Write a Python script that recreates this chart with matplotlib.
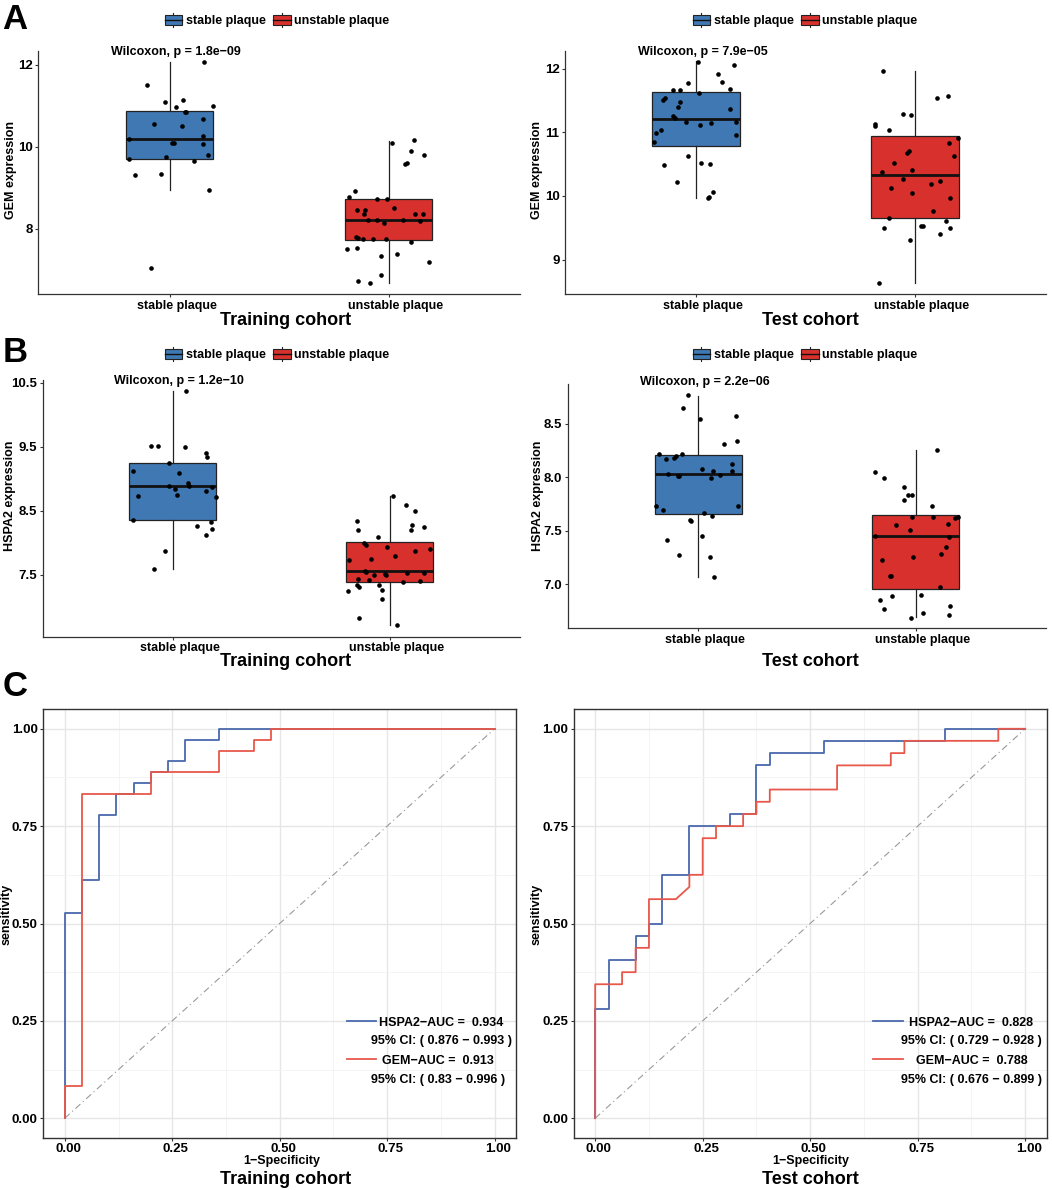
import matplotlib
matplotlib.use('Agg')
import matplotlib.pyplot as plt
import matplotlib.transforms as mtransforms
from matplotlib.patches import Rectangle, Patch
from matplotlib.lines import Line2D
from matplotlib.legend_handler import HandlerBase

plt.rcParams['font.family'] = ['Liberation Sans', 'DejaVu Sans']
plt.rcParams['font.weight'] = 'bold'
plt.rcParams['axes.unicode_minus'] = True

W, H = 1052, 1190

BLUE = '#3F78B3'
RED = '#D8312D'
ROC_BLUE = '#4A68AE'
ROC_RED = '#E8584A'

groups = ['stable plaque', 'unstable plaque']

# ---- GEM, training cohort (y values, jitter offsets)
gem_tr_stable_y = [12.07, 11.50, 11.09, 11.15, 10.97, 10.99, 10.85, 10.84, 10.67, 10.55, 10.50, 10.20,
                   10.27, 10.08, 10.08, 10.07, 9.70, 9.76, 9.80, 9.64, 9.30, 9.34, 8.94, 7.05]
gem_tr_stable_dx = [0.157, -0.104, -0.020, 0.059, 0.029, 0.197, 0.072, 0.076, 0.152, -0.070, 0.055, -0.184,
                    0.154, 0.009, 0.020, 0.151, -0.184, -0.018, 0.175, 0.113, -0.160, -0.038, 0.180, -0.087]
gem_tr_unstable_y = [10.17, 10.09, 9.89, 9.81, 9.59, 9.60, 8.92, 8.78, 8.72, 8.72, 8.50, 8.46, 8.45, 8.37,
                     8.36, 8.36, 8.21, 8.21, 8.15, 8.21, 8.19, 7.80, 7.77, 7.74, 7.76, 7.76, 7.67, 7.50,
                     7.53, 7.38, 7.33, 7.19, 6.87, 6.73, 6.67]
gem_tr_unstable_dx = [0.116, 0.017, 0.101, 0.160, 0.076, 0.082, -0.152, -0.183, -0.053, -0.009, 0.023, -0.146,
                      -0.108, -0.111, 0.120, 0.157, -0.095, -0.052, -0.023, 0.064, 0.142, -0.149, -0.140,
                      -0.119, -0.073, -0.014, 0.102, -0.192, -0.145, 0.037, -0.035, 0.184, -0.035, -0.140, -0.085]
# box stats: (q1, median, q3, whisker low, whisker high)
gem_tr_box = [(9.69, 10.20, 10.86, 8.94, 12.07), (7.72, 8.21, 8.72, 6.68, 10.15)]

# ---- GEM, test cohort
gem_te_stable_y = [12.11, 12.06, 11.91, 11.79, 11.78, 11.66, 11.66, 11.68, 11.62, 11.54, 11.50, 11.47, 11.40,
                   11.37, 11.25, 11.23, 11.16, 11.15, 11.16, 11.12, 11.04, 10.99, 10.95, 10.84, 10.63, 10.48,
                   10.52, 10.50, 10.22, 10.06, 9.99, 9.97]
gem_te_stable_dx = [0.009, 0.174, 0.101, 0.117, -0.038, -0.104, -0.075, 0.155, 0.014, -0.143, -0.152, -0.072,
                    -0.085, 0.154, -0.108, -0.099, -0.047, 0.069, 0.184, 0.018, -0.163, -0.184, 0.181, -0.192,
                    -0.037, -0.145, 0.024, 0.064, -0.087, 0.075, 0.059, 0.052]
gem_te_unstable_y = [11.96, 11.57, 11.53, 11.29, 11.27, 11.13, 11.10, 11.03, 10.91, 10.83, 10.71, 10.67, 10.63,
                     10.52, 10.41, 10.37, 10.26, 10.24, 10.18, 10.12, 10.05, 9.97, 9.77, 9.66, 9.60, 9.52,
                     9.52, 9.49, 9.50, 9.40, 9.31, 8.63]
gem_te_unstable_dx = [-0.146, 0.152, 0.101, -0.052, -0.018, -0.184, -0.183, -0.116, 0.197, 0.155, -0.026, -0.037,
                      0.181, -0.093, -0.011, -0.152, -0.053, 0.117, 0.075, -0.110, -0.015, 0.160, 0.081,
                      -0.119, 0.142, 0.027, 0.037, -0.143, 0.159, 0.114, -0.020, -0.165]
gem_te_box = [(10.79, 11.20, 11.63, 9.97, 12.12), (9.65, 10.33, 10.94, 8.64, 11.96)]

# ---- HSPA2, training cohort
hsp_tr_stable_y = [10.37, 9.51, 9.51, 9.49, 9.40, 9.34, 9.25, 9.12, 9.08, 8.93, 8.89, 8.89, 8.84, 8.87, 8.75,
                   8.73, 8.80, 8.71, 8.36, 8.26, 8.32, 8.22, 8.12, 7.87, 7.58]
hsp_tr_stable_dx = [0.062, -0.103, -0.069, 0.054, 0.154, 0.158, -0.020, -0.185, 0.029, 0.069, 0.075, -0.018,
                    0.011, 0.180, 0.018, -0.160, 0.151, 0.197, -0.185, 0.112, 0.174, 0.180, 0.154, -0.038, -0.088]
hsp_tr_unstable_y = [8.73, 8.58, 8.50, 8.34, 8.28, 8.24, 8.19, 8.19, 8.08, 7.99, 7.97, 7.90, 7.93, 7.87, 7.79,
                     7.73, 7.75, 7.55, 7.54, 7.50, 7.51, 7.50, 7.53, 7.53, 7.43, 7.42, 7.39, 7.40, 7.34, 7.30,
                     7.34, 7.24, 7.26, 7.12, 6.82, 6.71]
hsp_tr_unstable_dx = [0.015, 0.074, 0.115, -0.152, 0.102, 0.158, 0.098, -0.148, -0.055, -0.117, -0.108, 0.183,
                      -0.011, 0.117, 0.023, -0.186, -0.086, -0.114, -0.109, -0.075, -0.023, -0.017, 0.080,
                      0.157, -0.146, -0.095, 0.063, 0.140, -0.152, -0.143, -0.052, -0.192, -0.034, -0.035,
                      -0.142, 0.034]
hsp_tr_box = [(8.36, 8.88, 9.25, 7.58, 10.37), (7.39, 7.55, 8.01, 6.71, 8.73)]

# ---- HSPA2, test cohort
hsp_te_stable_y = [8.77, 8.65, 8.54, 8.57, 8.34, 8.31, 8.22, 8.22, 8.17, 8.20, 8.18, 8.12, 8.08, 8.03, 8.01,
                   8.01, 8.06, 8.06, 8.02, 7.99, 7.73, 7.73, 7.69, 7.67, 7.64, 7.60, 7.59, 7.45, 7.41, 7.27,
                   7.26, 7.07]
hsp_te_stable_dx = [-0.046, -0.070, 0.009, 0.175, 0.181, 0.118, -0.182, -0.074, -0.150, -0.104, -0.109, 0.155,
                    0.017, -0.139, -0.093, -0.086, 0.069, 0.158, 0.101, 0.061, -0.193, 0.184, -0.161, 0.025,
                    0.064, -0.038, -0.035, 0.020, -0.144, -0.086, 0.055, 0.074]
hsp_te_unstable_y = [8.25, 8.05, 7.99, 7.91, 7.83, 7.83, 7.79, 7.73, 7.63, 7.63, 7.62, 7.63, 7.55, 7.56, 7.51,
                     7.45, 7.44, 7.35, 7.28, 7.26, 7.23, 7.08, 7.08, 6.98, 6.90, 6.89, 6.85, 6.77, 6.80, 6.73,
                     6.69, 6.71]
hsp_te_unstable_dx = [0.100, -0.185, -0.147, -0.052, -0.035, -0.017, -0.055, 0.074, -0.015, 0.080, 0.181, 0.194,
                      -0.092, 0.150, -0.025, -0.187, 0.153, 0.141, 0.115, -0.011, -0.155, -0.119, -0.115,
                      0.112, 0.026, -0.109, -0.165, -0.144, 0.158, 0.034, -0.020, 0.156]
hsp_te_box = [(7.66, 8.03, 8.21, 7.07, 8.76), (6.96, 7.45, 7.65, 6.70, 8.25)]

p_values = ['1.8e\u221209', '7.9e\u221205', '1.2e\u221210', '2.2e\u221206']

# ---- ROC curves (1-specificity, sensitivity)
roc_tr_hspa2_fpr = [0, 0, 0.04, 0.04, 0.08, 0.08, 0.12, 0.12, 0.16, 0.16, 0.20, 0.20, 0.24, 0.24, 0.28, 0.28,
                    0.36, 0.36, 1.0]
roc_tr_hspa2_tpr = [0, 0.528, 0.528, 0.611, 0.611, 0.778, 0.778, 0.833, 0.833, 0.861, 0.861, 0.889, 0.889,
                    0.917, 0.917, 0.972, 0.972, 1.0, 1.0]
roc_tr_gem_fpr = [0, 0, 0.04, 0.04, 0.20, 0.20, 0.36, 0.36, 0.44, 0.44, 0.48, 0.48, 1.0]
roc_tr_gem_tpr = [0, 0.083, 0.083, 0.833, 0.833, 0.889, 0.889, 0.944, 0.944, 0.972, 0.972, 1.0, 1.0]
roc_te_hspa2_fpr = [0, 0, 0.031, 0.031, 0.094, 0.094, 0.125, 0.125, 0.156, 0.156, 0.219, 0.219, 0.3125, 0.3125,
                    0.375, 0.375, 0.406, 0.406, 0.531, 0.531, 0.8125, 0.8125, 1.0]
roc_te_hspa2_tpr = [0, 0.281, 0.281, 0.406, 0.406, 0.469, 0.469, 0.5, 0.5, 0.625, 0.625, 0.75, 0.75, 0.781,
                    0.781, 0.906, 0.906, 0.9375, 0.9375, 0.969, 0.969, 1.0, 1.0]
roc_te_gem_fpr = [0, 0, 0.0625, 0.0625, 0.094, 0.094, 0.125, 0.125, 0.1875, 0.219, 0.219, 0.25, 0.25, 0.281,
                  0.281, 0.344, 0.344, 0.375, 0.375, 0.406, 0.406, 0.5625, 0.5625, 0.6875, 0.6875, 0.719,
                  0.719, 0.9375, 0.9375, 1.0]
roc_te_gem_tpr = [0, 0.344, 0.344, 0.375, 0.375, 0.4375, 0.4375, 0.5625, 0.5625, 0.594, 0.625, 0.625, 0.719,
                  0.719, 0.75, 0.75, 0.781, 0.781, 0.8125, 0.8125, 0.844, 0.844, 0.906, 0.906, 0.9375, 0.9375,
                  0.969, 0.969, 1.0, 1.0]
# AUC, CI low, CI high
auc_tr = {'HSPA2': (0.934, 0.876, 0.993), 'GEM': (0.913, 0.83, 0.996)}
auc_te = {'HSPA2': (0.828, 0.729, 0.928), 'GEM': (0.788, 0.676, 0.899)}

FS = 9          # small bold text
FS_TITLE = 13   # cohort titles


def rect_px(l, r, t, b):
    return [l / W, 1 - b / H, (r - l) / W, (b - t) / H]


class BoxKey(HandlerBase):
    def create_artists(self, legend, orig_handle, xdescent, ydescent, width, height, fontsize, trans):
        x0, y0 = -xdescent, -ydescent
        xm = x0 + width / 2
        arts = [Line2D([xm, xm], [y0 - 0.25 * height, y0 + 1.25 * height], color='#222222', lw=0.8),
                Rectangle((x0, y0), width, height, facecolor=orig_handle.get_facecolor(),
                          edgecolor='#222222', lw=0.8),
                Line2D([x0, x0 + width], [y0 + height / 2] * 2, color='#111111', lw=1.0)]
        for a in arts:
            a.set_transform(trans)
        return arts


fig = plt.figure(figsize=(W / 100, H / 100), dpi=100)


def box_panel(pos, boxes, s_y, s_dx, u_y, u_dx, ylim, yticks, fmt, ylabel, ylab_px, pval, p_y,
              title, title_px, legend_px):
    ax = fig.add_axes(rect_px(*pos))
    stats = []
    for i, (q1, med, q3, lo, hi) in enumerate(boxes):
        stats.append(dict(q1=q1, med=med, q3=q3, whislo=lo, whishi=hi, label=groups[i]))
    bp = ax.bxp(stats, positions=[1, 2], widths=0.4, patch_artist=True, showcaps=False, showfliers=False,
                boxprops=dict(edgecolor='#222222', lw=0.9),
                whiskerprops=dict(color='#222222', lw=0.9),
                medianprops=dict(color='#111111', lw=2.0))
    for patch, c in zip(bp['boxes'], [BLUE, RED]):
        patch.set_facecolor(c)
    ax.scatter([1 + d for d in s_dx], s_y, s=11, color='black', zorder=3, linewidths=0)
    ax.scatter([2 + d for d in u_dx], u_y, s=11, color='black', zorder=3, linewidths=0)
    ax.set_xlim(0.4, 2.6)
    ax.set_ylim(*ylim)
    ax.set_yticks(yticks)
    ax.set_yticklabels([fmt % v for v in yticks])
    ax.set_xticks([1, 2])
    ax.set_xticklabels(groups)
    for s in ['top', 'right']:
        ax.spines[s].set_visible(False)
    for s in ['left', 'bottom']:
        ax.spines[s].set_color('#333333')
        ax.spines[s].set_linewidth(0.9)
    ax.tick_params(length=2.5, width=0.8, color='#333333', labelsize=FS + 0.5, pad=1.5)
    ax.tick_params(axis='x', labelsize=FS)
    shift = mtransforms.ScaledTranslation(7 / 100, 0, fig.dpi_scale_trans)
    for lab in ax.get_xticklabels():
        lab.set_transform(lab.get_transform() + shift)
    ax.text(1.03, p_y, 'Wilcoxon, p = ' + pval, ha='center', va='center', fontsize=FS, clip_on=False)
    fig.text(ylab_px[0] / W, 1 - ylab_px[1] / H, ylabel, rotation=90, ha='center', va='center', fontsize=FS)
    fig.text(title_px[0] / W, 1 - title_px[1] / H, title, ha='center', va='center', fontsize=FS_TITLE)
    ax.legend([Patch(facecolor=BLUE), Patch(facecolor=RED)], groups, handler_map={Patch: BoxKey()},
              loc='center', bbox_to_anchor=(legend_px[0] / W, 1 - legend_px[1] / H),
              bbox_transform=fig.transFigure, ncol=2, frameon=False, fontsize=FS,
              handlelength=1.4, handleheight=0.8, handletextpad=0.3, columnspacing=0.6)
    return ax


def roc_panel(pos, curves, aucs, title, title_px, xlab_px, ylab_px, key_px, text_left):
    ax = fig.add_axes(rect_px(*pos))
    ax.plot([0, 1], [0, 1], color='#999999', ls=(0, (6, 3, 1, 3)), lw=0.8)
    for fpr, tpr, c in curves:
        ax.plot(fpr, tpr, color=c, lw=1.3)
    ax.set_xlim(-0.05, 1.05)
    ax.set_ylim(-0.05, 1.05)
    ticks = [0, 0.25, 0.5, 0.75, 1.0]
    ax.set_xticks(ticks)
    ax.set_yticks(ticks)
    ax.set_xticklabels(['%.2f' % t for t in ticks])
    ax.set_yticklabels(['%.2f' % t for t in ticks])
    ax.set_xticks([0.125, 0.375, 0.625, 0.875], minor=True)
    ax.set_yticks([0.125, 0.375, 0.625, 0.875], minor=True)
    ax.grid(which='major', color='#E6E6E6', lw=1.0)
    ax.grid(which='minor', color='#F2F2F2', lw=0.6)
    ax.set_axisbelow(True)
    ax.tick_params(which='minor', length=0)
    ax.tick_params(which='major', length=2.5, width=0.8, color='#333333', labelsize=FS + 0.5, pad=1.5)
    for s in ax.spines.values():
        s.set_color('#333333')
        s.set_linewidth(1.0)
    shift = mtransforms.ScaledTranslation(3.5 / 100, 0, fig.dpi_scale_trans)
    for lab in ax.get_xticklabels():
        lab.set_transform(lab.get_transform() + shift)
    fig.text(xlab_px[0] / W, 1 - xlab_px[1] / H, '1\u2212Specificity', ha='center', va='center', fontsize=FS)
    fig.text(ylab_px[0] / W, 1 - ylab_px[1] / H, 'sensitivity', rotation=90, ha='center', va='center',
             fontsize=FS)
    fig.text(title_px[0] / W, 1 - title_px[1] / H, title, ha='center', va='center', fontsize=FS_TITLE)
    # legend: key line on the first line of each two-line label
    for (name, col), ky in zip([('HSPA2', ROC_BLUE), ('GEM', ROC_RED)], key_px[2:]):
        a, lo, hi = aucs[name]
        fig.add_artist(Line2D([key_px[0] / W, key_px[1] / W], [1 - ky / H] * 2, color=col, lw=1.3,
                              transform=fig.transFigure))
        fig.text(text_left / W, 1 - (ky - 4) / H,
                 '%s\u2212AUC =  %s\n95%% CI: ( %s \u2212 %s )' % (name, a, lo, hi),
                 ha='left', va='top', multialignment='center', fontsize=FS, linespacing=1.75)
    return ax


box_panel((38.3, 520, 50.7, 294), gem_tr_box, gem_tr_stable_y, gem_tr_stable_dx, gem_tr_unstable_y,
          gem_tr_unstable_dx, (6.41, 12.34), [8, 10, 12], '%d', 'GEM expression', (11, 170), p_values[0],
          12.32, 'Training cohort', (286, 321), (277, 21))
box_panel((565, 1046, 50.7, 294), gem_te_box, gem_te_stable_y, gem_te_stable_dx, gem_te_unstable_y,
          gem_te_unstable_dx, (8.46, 12.28), [9, 10, 11, 12], '%d', 'GEM expression', (537, 170), p_values[1],
          12.26, 'Test cohort', (810, 321), (805, 21))
box_panel((42.7, 520, 380, 636.7), hsp_tr_box, hsp_tr_stable_y, hsp_tr_stable_dx, hsp_tr_unstable_y,
          hsp_tr_unstable_dx, (6.53, 10.54), [7.5, 8.5, 9.5, 10.5], '%.1f', 'HSPA2 expression', (10, 496),
          p_values[2], 10.52, 'Training cohort', (286, 662), (277, 355))
box_panel((567.7, 1046, 384, 628.3), hsp_te_box, hsp_te_stable_y, hsp_te_stable_dx, hsp_te_unstable_y,
          hsp_te_unstable_dx, (6.59, 8.87), [7.0, 7.5, 8.0, 8.5], '%.1f', 'HSPA2 expression', (537.7, 496),
          p_values[3], 8.89, 'Test cohort', (810, 662), (805, 355))

roc_panel((43.3, 516, 709.3, 1137.7),
          [(roc_tr_hspa2_fpr, roc_tr_hspa2_tpr, ROC_BLUE), (roc_tr_gem_fpr, roc_tr_gem_tpr, ROC_RED)],
          auc_tr, 'Training cohort', (286, 1180), (282, 1161), (6.5, 914), (346.7, 376, 1020.7, 1059.3), 370.7)
roc_panel((573.7, 1046.7, 709.3, 1137.7),
          [(roc_te_hspa2_fpr, roc_te_hspa2_tpr, ROC_BLUE), (roc_te_gem_fpr, roc_te_gem_tpr, ROC_RED)],
          auc_te, 'Test cohort', (810, 1180), (811, 1161), (537, 914), (872.7, 902.7, 1020.7, 1059.3), 901)

for letter, (x, y) in zip('ABC', [(2, 3), (3, 336), (3, 670)]):
    fig.text(x / W, 1 - y / H, letter, ha='left', va='top', fontsize=25)

fig.savefig('out.png', dpi=100)
